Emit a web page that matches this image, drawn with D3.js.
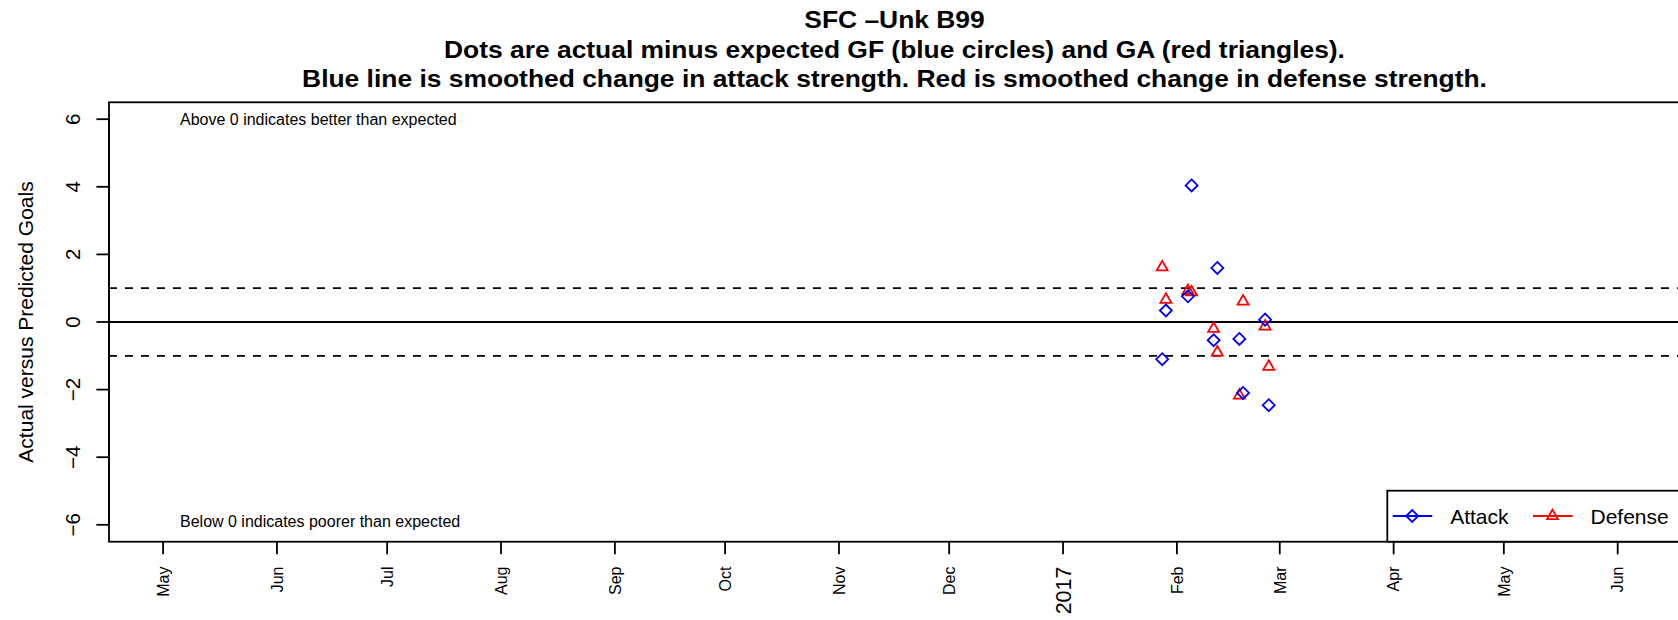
<!DOCTYPE html>
<html>
<head>
<meta charset="utf-8">
<script src="https://cdn.jsdelivr.net/npm/d3@7"></script>
<style>
  html, body { margin: 0; padding: 0; background: #fff; }
  svg { display: block; font-family: "Liberation Sans", Arial, Helvetica, sans-serif; }
</style>
</head>
<body>
<svg id="chart" width="1678" height="620"></svg>
<script>
// ---- data ----
const matchDates = ["2017-01-28","2017-01-29","2017-02-04","2017-02-05","2017-02-11","2017-02-12","2017-02-18","2017-02-19","2017-02-25","2017-02-26"];
const attackValues  = [-1.1, 0.34, 0.76, 4.04, -0.54, 1.6, -0.5, -2.1, 0.07, -2.46];
const defenseValues = [1.62, 0.66, 0.92, 0.88, -0.2, -0.9, -2.17, 0.61, -0.13, -1.32];
const yTicks = [-6, -4, -2, 0, 2, 4, 6];
const refLines = [-1, 1];
const titleLines = [
  "SFC \u2013Unk B99",
  "Dots are actual minus expected GF (blue circles) and GA (red triangles).",
  "Blue line is smoothed change in attack strength. Red is smoothed change in defense strength."
];
const yLabel = "Actual versus Predicted Goals";
const annotations = [
  {text: "Above 0 indicates better than expected", y: 6},
  {text: "Below 0 indicates poorer than expected", y: -5.9}
];
const legendLabels = ["Attack", "Defense"];

// ---- layout ----
const svg = d3.select("#chart");
const L = 109, R = 1680, T = 102.3, B = 541.7;
const lw = 1.8;

const x = d3.scaleUtc()
  .domain([new Date(Date.UTC(2016, 3, 16, 6, 43)), new Date(Date.UTC(2017, 5, 17, 23, 0))])
  .range([L, R]);
const y = d3.scaleLinear().domain([-6.5, 6.5]).range([B, T]);

// title
svg.append("g").selectAll("text").data(titleLines).join("text")
  .attr("transform", (d, i) => `translate(${(L + R) / 2},${28.3 + i * 29.5}) scale(1.1,1)`)
  .attr("text-anchor", "middle")
  .attr("font-weight", "bold")
  .attr("font-size", 24)
  .attr("fill", "#000")
  .text(d => d);

// reference lines
svg.append("line")
  .attr("x1", L).attr("x2", R).attr("y1", y(0)).attr("y2", y(0))
  .attr("stroke", "#000").attr("stroke-width", lw);
svg.append("g").selectAll("line").data(refLines).join("line")
  .attr("x1", L).attr("x2", R).attr("y1", d => y(d)).attr("y2", d => y(d))
  .attr("stroke", "#000").attr("stroke-width", lw).attr("stroke-dasharray", "8,8");

// annotations
svg.append("g").selectAll("text").data(annotations).join("text")
  .attr("x", L + 71)
  .attr("y", d => y(d.y))
  .attr("dominant-baseline", "central")
  .attr("font-size", 16)
  .text(d => d.text);

// y axis
const yAxis = svg.append("g");
yAxis.append("line").attr("x1", L).attr("x2", L).attr("y1", y(-6)).attr("y2", y(6))
  .attr("stroke", "#000").attr("stroke-width", lw);
yAxis.selectAll("line.tick").data(yTicks).join("line").attr("class", "tick")
  .attr("x1", L).attr("x2", L - 12.6).attr("y1", d => y(d)).attr("y2", d => y(d))
  .attr("stroke", "#000").attr("stroke-width", lw);
yAxis.selectAll("text").data(yTicks).join("text")
  .attr("transform", d => `translate(80,${y(d)}) rotate(-90)`)
  .attr("text-anchor", "middle")
  .attr("font-size", 20.5)
  .text(d => d < 0 ? "\u2212" + Math.abs(d) : String(d));
svg.append("text")
  .attr("transform", `translate(32.5,${(T + B) / 2}) rotate(-90)`)
  .attr("text-anchor", "middle")
  .attr("font-size", 21)
  .text(yLabel);

// x axis
const months = d3.utcMonth.range(d3.utcMonth.ceil(x.domain()[0]), x.domain()[1]);
const xAxis = svg.append("g");
xAxis.selectAll("line").data(months).join("line")
  .attr("x1", d => x(d)).attr("x2", d => x(d)).attr("y1", B).attr("y2", B + 12.6)
  .attr("stroke", "#000").attr("stroke-width", lw);
xAxis.selectAll("text").data(months).join("text")
  .attr("transform", d => `translate(${x(d)},566.5) rotate(-90)`)
  .attr("text-anchor", "end")
  .attr("dy", "0.36em")
  .attr("font-size", d => d.getUTCMonth() === 0 ? 21.5 : 16)
  .text(d => d.getUTCMonth() === 0 ? d3.utcFormat("%Y")(d) : d3.utcFormat("%b")(d));

// frame
svg.append("rect")
  .attr("x", L).attr("y", T).attr("width", R - L).attr("height", B - T)
  .attr("fill", "none").attr("stroke", "#000").attr("stroke-width", lw);

// markers
const parse = d3.utcParse("%Y-%m-%d");
const pts = matchDates.map((d, i) => ({date: parse(d), a: attackValues[i], df: defenseValues[i]}));
const diamond = (cx, cy, s) => `M${cx},${cy - s}L${cx + s},${cy}L${cx},${cy + s}L${cx - s},${cy}Z`;
const tri = (cx, cy, s) => `M${cx},${cy - 1.5551 * s}L${cx + 1.3468 * s},${cy + 0.7776 * s}L${cx - 1.3468 * s},${cy + 0.7776 * s}Z`;

svg.append("g").selectAll("path").data(pts).join("path")
  .attr("d", d => tri(x(d.date), y(d.df), 4.1))
  .attr("fill", "none").attr("stroke", "#ff0000").attr("stroke-width", lw);
svg.append("g").selectAll("path").data(pts).join("path")
  .attr("d", d => diamond(x(d.date), y(d.a), 6))
  .attr("fill", "none").attr("stroke", "#0000ff").attr("stroke-width", lw);

// legend
const lg = svg.append("g");
lg.append("rect").attr("x", 1387.3).attr("y", 490.7).attr("width", 400).attr("height", B - 490.7)
  .attr("fill", "#fff").attr("stroke", "#000").attr("stroke-width", lw);
const legendItems = [
  {label: legendLabels[0], color: "#0000ff", x0: 1392.7, shape: "d"},
  {label: legendLabels[1], color: "#ff0000", x0: 1533, shape: "t"}
];
const ly = 516;
legendItems.forEach(it => {
  lg.append("line").attr("x1", it.x0).attr("x2", it.x0 + 39.5).attr("y1", ly).attr("y2", ly)
    .attr("stroke", it.color).attr("stroke-width", lw);
  lg.append("path")
    .attr("d", it.shape === "d" ? diamond(it.x0 + 19.5, ly, 6) : tri(it.x0 + 19.5, ly, 4.1))
    .attr("fill", "none").attr("stroke", it.color).attr("stroke-width", lw);
  lg.append("text").attr("x", it.x0 + 57.5).attr("y", ly).attr("dominant-baseline", "central")
    .attr("font-size", 21).text(it.label);
});
</script>
</body>
</html>
